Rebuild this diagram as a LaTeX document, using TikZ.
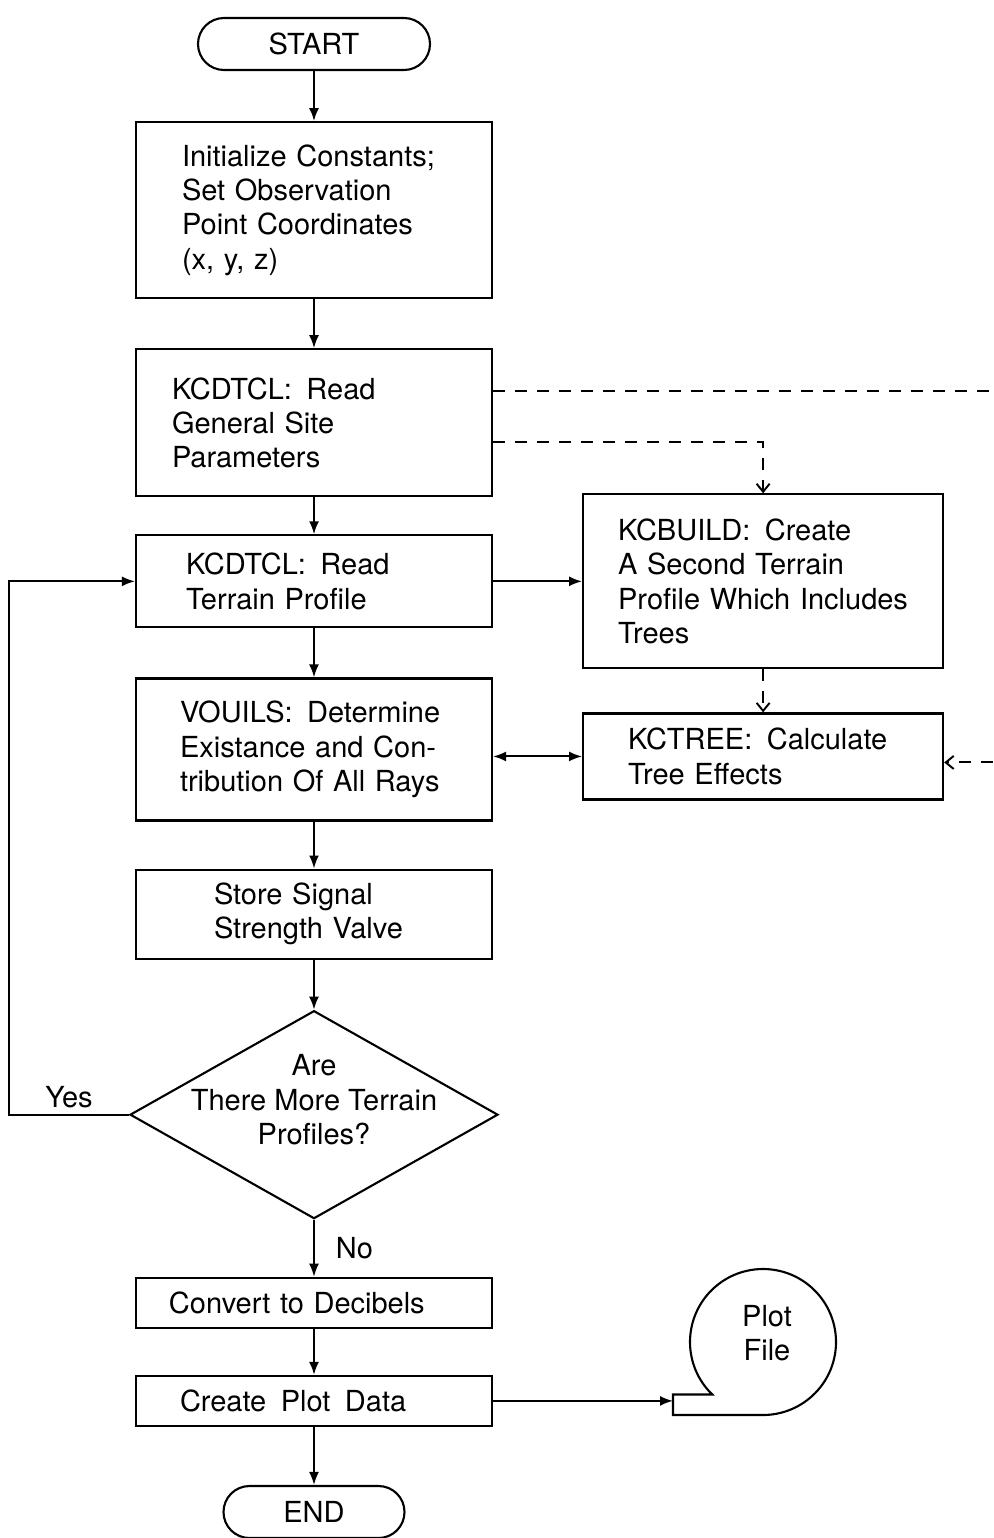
\documentclass[tikz,border=0pt]{standalone}
\usepackage{fontspec}
\setmainfont{TeX Gyre Heros}
\usetikzlibrary{arrows.meta,positioning,shapes.geometric}

\begin{document}
\begin{tikzpicture}[
  x=0.2mm, y=-0.2mm,
  font=\fontsize{16.5}{19.5}\selectfont,
  node distance=10mm and 18mm,
  box/.style={draw,line width=1.2pt,minimum width=71.2mm,text width=#1,align=left,inner sep=0pt},
  sidebox/.style={box=#1,minimum width=72mm},
  term/.style={draw,line width=1.2pt,rounded corners=5.2mm,minimum height=10.4mm},
  decision/.style={draw,line width=1.2pt,diamond,minimum width=73.6mm,minimum height=41.6mm,inner sep=0pt},
  arr/.style={-{Latex[length=2.6mm,width=2mm]},line width=1.1pt},
  dblarr/.style={{Latex[length=2.6mm,width=2mm]}-{Latex[length=2.6mm,width=2mm]},line width=1.1pt},
  dasharr/.style={-{Straight Barb[length=1.6mm,width=2.6mm]},line width=1.1pt,dash pattern=on 2.4mm off 2mm}
]
\useasboundingbox (0,0) rectangle (993,1538);

% main column
\node[term,minimum width=46.4mm] (start) at (314,44) {START};
\node[box=52.8mm,minimum height=35.2mm,below=10mm of start] (init) {Initialize Constants;\\Set Observation\\Point Coordinates\\(x, y, z)};
\node[box=56.8mm,minimum height=29.4mm,below=9.8mm of init] (site) {KCDTCL:\enspace Read\\General Site\\Parameters};
\node[box=51.2mm,minimum height=18.4mm,below=7.4mm of site] (terrain) {KCDTCL:\enspace Read\\Terrain Profile};
\node[box=53.6mm,minimum height=28.4mm,below=9.8mm of terrain] (vouils) {VOUILS:\enspace Determine\\Existance and Con-\\tribution Of All Rays};
\node[box=40mm,minimum height=17.8mm,below=9.4mm of vouils] (store) {Store Signal\\Strength Valve};
\node[decision,below=10mm of store,
  label={[align=center,yshift=3mm]center:Are\\There More Terrain\\Profiles?}] (more) {};
\node[box=58mm,minimum height=10mm,below=11.4mm of more] (convert) {Convert to Decibels};
\node[box=53.6mm,minimum height=10mm,below=9.2mm of convert] (plotdata) {Create\enspace Plot\enspace Data};
\node[term,minimum width=36.2mm,below=11.6mm of plotdata] (end) {END};

% side boxes
\node[sidebox=58mm,minimum height=34.8mm,right=17.8mm of terrain] (build) {KCBUILD:\enspace Create\\A Second Terrain\\Profile Which Includes\\Trees};
\node[sidebox=54mm,minimum height=17.2mm,below=8.6mm of build] (tree) {KCTREE:\enspace Calculate\\Tree Effects};

% plot file
\draw[line width=1.2pt] (763,1342) ++(134:73) arc[start angle=134,end angle=450,radius=73]
  -- (673,1415) -- (673,1394.5) -- cycle;
\node[align=center] (plot) at (767,1333) {Plot\\File};
\coordinate (plotin) at (673,1405);
\coordinate (edge) at (993,0);

% connectors
\draw[arr] (start) -- (init);
\draw[arr] (init) -- (site);
\draw[arr] (site) -- (terrain);
\draw[arr] (terrain) -- (vouils);
\draw[arr] (vouils) -- (store);
\draw[arr] (store) -- (more);
\draw[arr] (more) -- node[right=3mm]{No} (convert);
\draw[arr] (convert) -- (plotdata);
\draw[arr] (plotdata) -- (end);
\draw[arr] (more.west) -- node[above]{Yes} ++(-24mm,0) |- (terrain.west);
\draw[arr] (terrain) -- (build);
\draw[dblarr] (vouils.east |- tree.west) -- (tree.west);
\draw[arr] (plotdata.east) -- (plotdata.east -| plotin);

% dashed links
\draw[dasharr,-] ([yshift=6.3mm]site.east) -- ([yshift=6.3mm]site.east -| edge);
\draw[dasharr] ([yshift=-3.9mm]site.east) -| (build.north);
\draw[dasharr] (build) -- (tree);
\draw[dasharr] ([yshift=-1.2mm]tree.east -| edge) -- ([yshift=-1.2mm]tree.east);
\end{tikzpicture}
\end{document}
